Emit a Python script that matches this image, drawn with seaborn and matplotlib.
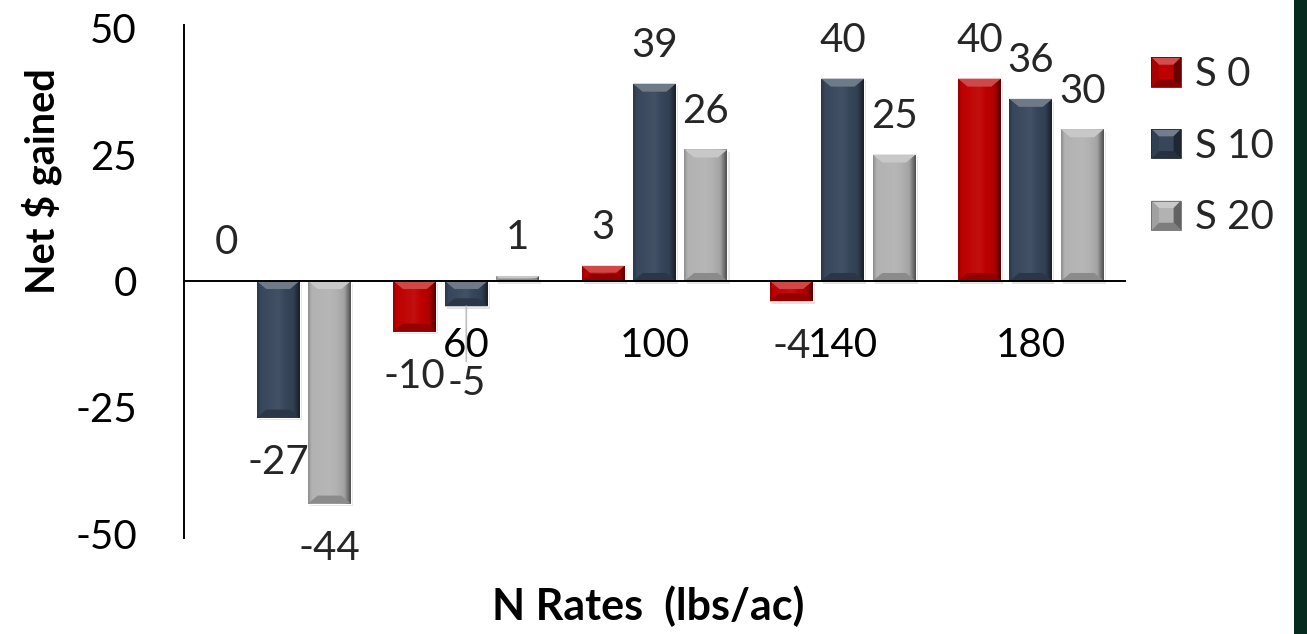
import numpy as np
import pandas as pd
import matplotlib
matplotlib.use("Agg")
import matplotlib.pyplot as plt
import matplotlib.patheffects as pe
from matplotlib.patches import Polygon, Rectangle, Patch
from matplotlib.legend_handler import HandlerBase
from matplotlib.colors import to_rgb
import seaborn as sns

# ---- data -------------------------------------------------------------
n_rates = ["0", "60", "100", "140", "180"]
series_names = ["S 0", "S 10", "S 20"]
s0_values = [0, -10, 3, -4, 40]
s10_values = [-27, -5, 39, 40, 36]
s20_values = [-44, 1, 26, 25, 30]
y_ticks = [-50, -25, 0, 25, 50]

series_colors = {"S 0": "#BE0000", "S 10": "#37465B", "S 20": "#B2B2B2"}

df = pd.DataFrame({
    "N rate": n_rates * 3,
    "Series": np.repeat(series_names, len(n_rates)),
    "Net": s0_values + s10_values + s20_values,
})


def shade(color, f):
    """f < 1 darkens, f > 1 lightens towards white."""
    c = np.array(to_rgb(color))
    if f <= 1:
        return tuple(c * f)
    return tuple(c + (1 - c) * (f - 1))


# ---- figure -----------------------------------------------------------
sns.set_theme(style="white")
plt.rcParams["font.family"] = ["Lato", "DejaVu Sans"]

W, H = 1307, 634
fig = plt.figure(figsize=(W / 100, H / 100), dpi=100)
fig.patch.set_facecolor("white")
ax = fig.add_axes([184 / W, 1 - 538 / H, (1125 - 184) / W, (538 - 25) / H])
ax.set_facecolor("white")

sns.barplot(data=df, x="N rate", y="Net", hue="Series", order=n_rates,
            hue_order=series_names, palette=series_colors, width=0.82,
            gap=0.165, saturation=1, errorbar=None, legend=False, ax=ax)

xlim = (-0.5, len(n_rates) - 0.5)
ylim = (-50.8, 50.6)
ax.set_xlim(*xlim)
ax.set_ylim(*ylim)

# pixel -> data conversion for the bevel sizes
bbox = ax.get_window_extent()
x_per_px = (xlim[1] - xlim[0]) / bbox.width
y_per_px = (ylim[1] - ylim[0]) / bbox.height
bevel_px = 8

profile_t = [0.0, 0.08, 0.5, 0.85, 1.0]
profile_f = [0.80, 1.0, 1.06, 0.92, 0.45]
t = np.linspace(0, 1, 64)
factor = np.interp(t, profile_t, profile_f)

label_nudge = {("S 10", "60"): -32}

for container, name in zip(ax.containers, series_names):
    base = series_colors[name]
    grad = np.array([[shade(base, f) for f in factor]])
    for bar, cat in zip(container.patches, n_rates):
        x0, w = bar.get_x(), bar.get_width()
        y_a, h = bar.get_y(), bar.get_height()
        y_lo, y_hi = min(y_a, y_a + h), max(y_a, y_a + h)
        x1 = x0 + w
        bar.set_path_effects([pe.SimplePatchShadow(offset=(1.5, -2), alpha=0.12), pe.Normal()])
        bar.set_zorder(1.5)
        if y_hi - y_lo > 0:
            im = ax.imshow(grad, extent=[x0, x1, y_lo, y_hi], aspect="auto",
                           interpolation="bicubic", zorder=1.6)
            im.set_clip_path(bar)
            hpx = (y_hi - y_lo) / y_per_px
            d_y = min(bevel_px, hpx / 2.2) * y_per_px
            d_x = min(bevel_px, hpx / 2.2) * x_per_px * 1.2
            top = Polygon([(x0, y_hi), (x1, y_hi), (x1 - d_x, y_hi - d_y), (x0 + d_x, y_hi - d_y)],
                          closed=True, facecolor=shade(base, 1.28), edgecolor="none", zorder=1.7)
            bot = Polygon([(x0, y_lo), (x1, y_lo), (x1 - d_x, y_lo + d_y), (x0 + d_x, y_lo + d_y)],
                          closed=True, facecolor=shade(base, 0.78), edgecolor="none", zorder=1.7)
            ax.add_patch(top)
            ax.add_patch(bot)

        value = h if y_a == 0 else y_a + h
        xc = x0 + w / 2
        off = 38 if value >= 0 else -45
        nudge = label_nudge.get((name, cat), 0)
        if nudge:
            ax.annotate(f"{value:g}", xy=(xc, value), xytext=(0, off + nudge),
                        textcoords="offset pixels", ha="center", va="center",
                        fontsize=29, zorder=5,
                        arrowprops=dict(arrowstyle="-", color="#BFBFBF", lw=1.2,
                                        shrinkA=0, shrinkB=0, relpos=(0.5, 1.0)))
        else:
            ax.annotate(f"{value:g}", xy=(xc, value), xytext=(0, off),
                        textcoords="offset pixels", ha="center", va="center",
                        fontsize=29, zorder=5)

ax.set_xlim(*xlim)
ax.set_ylim(*ylim)

# ---- axes styling -----------------------------------------------------
for side in ["top", "right"]:
    ax.spines[side].set_visible(False)
ax.spines["bottom"].set_position(("data", 0))
for side in ["left", "bottom"]:
    ax.spines[side].set_color("black")
    ax.spines[side].set_linewidth(1.4)
    ax.spines[side].set_zorder(4)

ax.set_yticks(y_ticks)
ax.set_yticklabels([str(v) for v in y_ticks])
ax.tick_params(axis="y", length=0, pad=34, labelsize=29, colors="black")

ax.set_xticks(range(len(n_rates)))
ax.set_xticklabels(n_rates)
ax.set_xticks(np.arange(-0.5, len(n_rates), 1.0), minor=True)
ax.tick_params(axis="x", which="major", length=0, pad=33, labelsize=29, colors="black")
ax.tick_params(axis="x", which="minor", length=9.5, width=1.4, direction="out", color="black")
ax.set_xlabel("")
ax.set_ylabel("")
ax.grid(False)

fig.text(648 / W, 1 - 606 / H, "N Rates  (lbs/ac)", ha="center", va="center",
         fontsize=31, fontweight="bold", color="black")
fig.text(42 / W, 1 - 181 / H, "Net $ gained", ha="center", va="center",
         rotation=90, fontsize=28.5, fontweight="bold", color="black")


# ---- legend with bevelled swatches ------------------------------------
class BevelSquare(HandlerBase):
    def create_artists(self, legend, orig_handle, xdescent, ydescent,
                       width, height, fontsize, trans):
        base = orig_handle.get_facecolor()
        s = min(width, height)
        x0 = -xdescent + (width - s) / 2
        y0 = -ydescent + (height - s) / 2
        d = 0.25 * s
        pts = {
            "top": [(x0, y0 + s), (x0 + s, y0 + s), (x0 + s - d, y0 + s - d), (x0 + d, y0 + s - d)],
            "bottom": [(x0, y0), (x0 + s, y0), (x0 + s - d, y0 + d), (x0 + d, y0 + d)],
            "left": [(x0, y0), (x0, y0 + s), (x0 + d, y0 + s - d), (x0 + d, y0 + d)],
            "right": [(x0 + s, y0), (x0 + s, y0 + s), (x0 + s - d, y0 + s - d), (x0 + s - d, y0 + d)],
        }
        tones = {"top": 1.3, "bottom": 0.7, "left": 0.9, "right": 0.55}
        arts = [Rectangle((x0, y0), s, s, facecolor=base, edgecolor="none", transform=trans)]
        for k, p in pts.items():
            arts.append(Polygon(p, closed=True, facecolor=shade(base, tones[k]),
                                edgecolor="none", transform=trans))
        arts.append(Rectangle((x0, y0), s, s, facecolor="none",
                              edgecolor=shade(base, 0.6), lw=0.6, transform=trans))
        return arts


handles = [Patch(facecolor=series_colors[n]) for n in series_names]
fig.legend(handles, series_names, loc="upper left",
           bbox_to_anchor=(1131 / W, 1 - 36 / H), frameon=False,
           fontsize=29, handlelength=0.75, handleheight=0.75,
           handletextpad=0.35, labelspacing=0.86, borderpad=0,
           handler_map={Patch: BevelSquare()})

# dark green band on the right edge
fig.add_artist(Rectangle((1294 / W, 0), (W - 1294) / W, 1, transform=fig.transFigure,
                         facecolor="#082B1F", edgecolor="none", zorder=10))

fig.savefig("out.png", dpi=100)
